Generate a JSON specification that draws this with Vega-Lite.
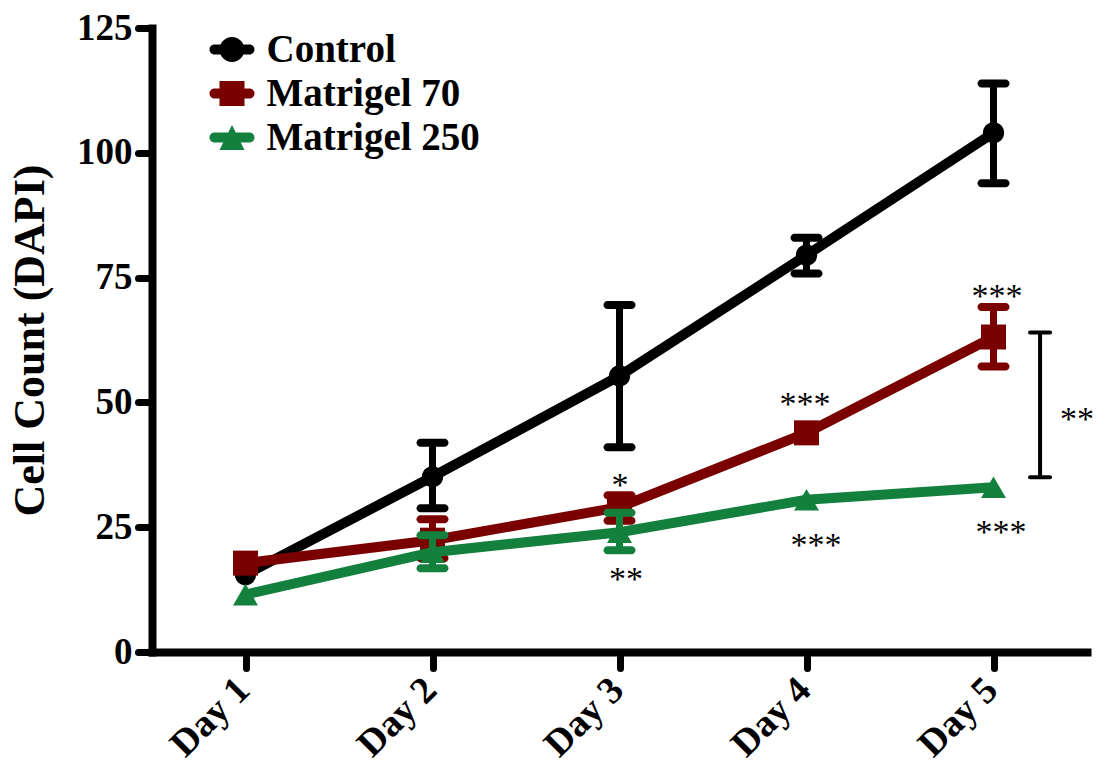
{
  "$schema": "https://vega.github.io/schema/vega-lite/v6.json",
  "width": 935,
  "height": 624,
  "autosize": {"type": "none"},
  "padding": {"left": 152, "top": 28, "right": 10, "bottom": 118},
  "background": "white",
  "datasets": {
    "main": [
      {"series": "Control", "day": 1, "value": 15.5, "lo": null, "hi": null},
      {"series": "Control", "day": 2, "value": 35.1, "lo": 28.8, "hi": 41.9},
      {"series": "Control", "day": 3, "value": 55.3, "lo": 41.0, "hi": 69.5},
      {"series": "Control", "day": 4, "value": 79.5, "lo": 75.8, "hi": 83.0},
      {"series": "Control", "day": 5, "value": 104.0, "lo": 93.9, "hi": 113.9},
      {"series": "Matrigel 70", "day": 1, "value": 17.8, "lo": null, "hi": null},
      {"series": "Matrigel 70", "day": 2, "value": 22.4, "lo": 18.8, "hi": 26.6},
      {"series": "Matrigel 70", "day": 3, "value": 29.0, "lo": 26.3, "hi": 31.4},
      {"series": "Matrigel 70", "day": 4, "value": 43.9, "lo": null, "hi": null},
      {"series": "Matrigel 70", "day": 5, "value": 63.1, "lo": 57.2, "hi": 69.1},
      {"series": "Matrigel 250", "day": 1, "value": 11.5, "lo": null, "hi": null},
      {"series": "Matrigel 250", "day": 2, "value": 20.0, "lo": 16.8, "hi": 23.4},
      {"series": "Matrigel 250", "day": 3, "value": 24.0, "lo": 20.4, "hi": 27.9},
      {"series": "Matrigel 250", "day": 4, "value": 30.5, "lo": null, "hi": null},
      {"series": "Matrigel 250", "day": 5, "value": 33.0, "lo": null, "hi": null}
    ],
    "stars": [
      {"day": 3.003, "y": 34.7, "label": "*"},
      {"day": 3.035, "y": 15.8, "label": "**"},
      {"day": 3.992, "y": 50.9, "label": "***"},
      {"day": 4.051, "y": 22.6, "label": "***"},
      {"day": 5.019, "y": 72.6, "label": "***"},
      {"day": 5.04, "y": 25.2, "label": "***"},
      {"day": 5.446, "y": 47.9, "label": "**"}
    ],
    "bracket": [
      {"day": 5.249, "lo": 35, "hi": 64}
    ]
  },
  "data": {"name": "main"},
  "encoding": {
    "x": {
      "field": "day", "type": "quantitative",
      "scale": {"domain": [0.5, 5.5], "nice": false, "zero": false},
      "axis": {"values": [1, 2, 3, 4, 5], "labelExpr": "'Day ' + datum.value", "title": null}
    },
    "y": {
      "field": "value", "type": "quantitative",
      "scale": {"domain": [0, 125], "nice": false, "zero": true},
      "axis": {"values": [0, 25, 50, 75, 100, 125], "title": "Cell Count (DAPI)"}
    }
  },
  "layer": [
    {
      "transform": [{"filter": "datum.series === 'Control'"}],
      "layer": [
        {
          "mark": {"type": "line", "strokeWidth": 10},
          "encoding": {
            "color": {
              "field": "series", "type": "nominal",
              "scale": {"domain": ["Control", "Matrigel 70", "Matrigel 250"], "range": ["#000000", "#7A0000", "#13803D"]},
              "legend": {
                "orient": "none", "legendX": 60.5, "legendY": 2, "title": null,
                "labelFont": "Liberation Serif", "labelFontSize": 39, "labelFontWeight": "bold", "labelColor": "black",
                "labelLimit": 0, "symbolSize": 625, "labelOffset": 15, "rowPadding": 4, "padding": 0,
                "encode": {
                  "symbols": {
                    "update": {
                      "shape": {"signal": "datum.value === 'Control' ? 'M-1.4,-0.4H1.4A0.4,0.4 0 0,1 1.4,0.4H-1.4A0.4,0.4 0 0,1 -1.4,-0.4Z M0,-1A1,1 0 1,1 0,1A1,1 0 1,1 0,-1Z' : datum.value === 'Matrigel 70' ? 'M-1.4,-0.4H1.4A0.4,0.4 0 0,1 1.4,0.4H-1.4A0.4,0.4 0 0,1 -1.4,-0.4Z M-1,-1H1V1H-1Z' : 'M-1.4,-0.4H1.4A0.4,0.4 0 0,1 1.4,0.4H-1.4A0.4,0.4 0 0,1 -1.4,-0.4Z M0,-1L1,1H-1Z'"},
                      "fill": {"scale": "color", "field": "value"},
                      "stroke": {"value": "transparent"},
                      "strokeWidth": {"value": 0},
                      "opacity": {"value": 1}
                    }
                  }
                }
              }
            }
          }
        },
        {
          "transform": [{"filter": "isValid(datum.lo)"}],
          "mark": {"type": "rule", "strokeWidth": 7},
          "encoding": {"y": {"field": "lo", "type": "quantitative", "title": "Cell Count (DAPI)"}, "y2": {"field": "hi"}, "color": {"field": "series", "type": "nominal"}}
        },
        {
          "transform": [{"filter": "isValid(datum.lo)"}],
          "mark": {"type": "tick", "orient": "horizontal", "size": 32, "thickness": 8, "cornerRadius": 4, "opacity": 1},
          "encoding": {"y": {"field": "lo", "type": "quantitative", "title": "Cell Count (DAPI)"}, "color": {"field": "series", "type": "nominal"}}
        },
        {
          "transform": [{"filter": "isValid(datum.hi)"}],
          "mark": {"type": "tick", "orient": "horizontal", "size": 32, "thickness": 8, "cornerRadius": 4, "opacity": 1},
          "encoding": {"y": {"field": "hi", "type": "quantitative", "title": "Cell Count (DAPI)"}, "color": {"field": "series", "type": "nominal"}}
        },
        {
          "mark": {"type": "point", "shape": "circle", "filled": true, "size": 452, "opacity": 1, "strokeWidth": 0},
          "encoding": {"color": {"field": "series", "type": "nominal"}}
        }
      ]
    },
    {
      "transform": [{"filter": "datum.series === 'Matrigel 70'"}],
      "layer": [
        {
          "mark": {"type": "line", "strokeWidth": 10},
          "encoding": {"color": {"field": "series", "type": "nominal"}}
        },
        {
          "transform": [{"filter": "isValid(datum.lo)"}],
          "mark": {"type": "rule", "strokeWidth": 7},
          "encoding": {"y": {"field": "lo", "type": "quantitative", "title": "Cell Count (DAPI)"}, "y2": {"field": "hi"}, "color": {"field": "series", "type": "nominal"}}
        },
        {
          "transform": [{"filter": "isValid(datum.lo)"}],
          "mark": {"type": "tick", "orient": "horizontal", "size": 32, "thickness": 8, "cornerRadius": 4, "opacity": 1},
          "encoding": {"y": {"field": "lo", "type": "quantitative", "title": "Cell Count (DAPI)"}, "color": {"field": "series", "type": "nominal"}}
        },
        {
          "transform": [{"filter": "isValid(datum.hi)"}],
          "mark": {"type": "tick", "orient": "horizontal", "size": 32, "thickness": 8, "cornerRadius": 4, "opacity": 1},
          "encoding": {"y": {"field": "hi", "type": "quantitative", "title": "Cell Count (DAPI)"}, "color": {"field": "series", "type": "nominal"}}
        },
        {
          "mark": {"type": "point", "shape": "square", "filled": true, "size": 625, "opacity": 1, "strokeWidth": 0},
          "encoding": {"color": {"field": "series", "type": "nominal"}}
        }
      ]
    },
    {
      "transform": [{"filter": "datum.series === 'Matrigel 250'"}],
      "layer": [
        {
          "mark": {"type": "line", "strokeWidth": 10},
          "encoding": {"color": {"field": "series", "type": "nominal"}}
        },
        {
          "transform": [{"filter": "isValid(datum.lo)"}],
          "mark": {"type": "rule", "strokeWidth": 7},
          "encoding": {"y": {"field": "lo", "type": "quantitative", "title": "Cell Count (DAPI)"}, "y2": {"field": "hi"}, "color": {"field": "series", "type": "nominal"}}
        },
        {
          "transform": [{"filter": "isValid(datum.lo)"}],
          "mark": {"type": "tick", "orient": "horizontal", "size": 32, "thickness": 8, "cornerRadius": 4, "opacity": 1},
          "encoding": {"y": {"field": "lo", "type": "quantitative", "title": "Cell Count (DAPI)"}, "color": {"field": "series", "type": "nominal"}}
        },
        {
          "transform": [{"filter": "isValid(datum.hi)"}],
          "mark": {"type": "tick", "orient": "horizontal", "size": 32, "thickness": 8, "cornerRadius": 4, "opacity": 1},
          "encoding": {"y": {"field": "hi", "type": "quantitative", "title": "Cell Count (DAPI)"}, "color": {"field": "series", "type": "nominal"}}
        },
        {
          "mark": {"type": "point", "shape": "triangle-up", "filled": true, "size": 625, "opacity": 1, "strokeWidth": 0},
          "encoding": {"color": {"field": "series", "type": "nominal"}}
        }
      ]
    },
    {
      "data": {"name": "bracket"},
      "layer": [
        {
          "mark": {"type": "rule", "strokeWidth": 4, "color": "black"},
          "encoding": {"y": {"field": "lo", "type": "quantitative", "title": "Cell Count (DAPI)"}, "y2": {"field": "hi"}}
        },
        {
          "mark": {"type": "tick", "orient": "horizontal", "size": 24, "thickness": 4, "cornerRadius": 2, "opacity": 1, "color": "black"},
          "encoding": {"y": {"field": "lo", "type": "quantitative", "title": "Cell Count (DAPI)"}}
        },
        {
          "mark": {"type": "tick", "orient": "horizontal", "size": 24, "thickness": 4, "cornerRadius": 2, "opacity": 1, "color": "black"},
          "encoding": {"y": {"field": "hi", "type": "quantitative", "title": "Cell Count (DAPI)"}}
        }
      ]
    },
    {
      "data": {"name": "stars"},
      "mark": {"type": "text", "font": "Liberation Serif", "fontSize": 34, "align": "center", "baseline": "alphabetic", "dy": 17, "color": "black"},
      "encoding": {
        "y": {"field": "y", "type": "quantitative", "title": "Cell Count (DAPI)"},
        "text": {"field": "label"}
      }
    }
  ],
  "config": {
    "view": {"stroke": null},
    "font": "Liberation Serif",
    "axis": {
      "grid": false,
      "domainColor": "black", "tickColor": "black", "labelColor": "black", "titleColor": "black",
      "labelFont": "Liberation Serif", "titleFont": "Liberation Serif",
      "labelFontWeight": "bold", "titleFontWeight": "bold",
      "tickCap": "round", "domainCap": "square", "domainWidth": 8, "tickWidth": 7
    },
    "axisX": {
      "tickSize": 16, "labelFontSize": 38, "labelAngle": -45, "labelAlign": "right", "labelBaseline": "middle",
      "labelPadding": 16, "labelOffset": -2, "labelOverlap": false, "labelFlush": false
    },
    "axisY": {
      "tickSize": 14, "labelFontSize": 37, "labelPadding": 6, "labelOverlap": false, "labelFlush": false,
      "titleFontSize": 44, "titlePadding": 24
    }
  }
}
